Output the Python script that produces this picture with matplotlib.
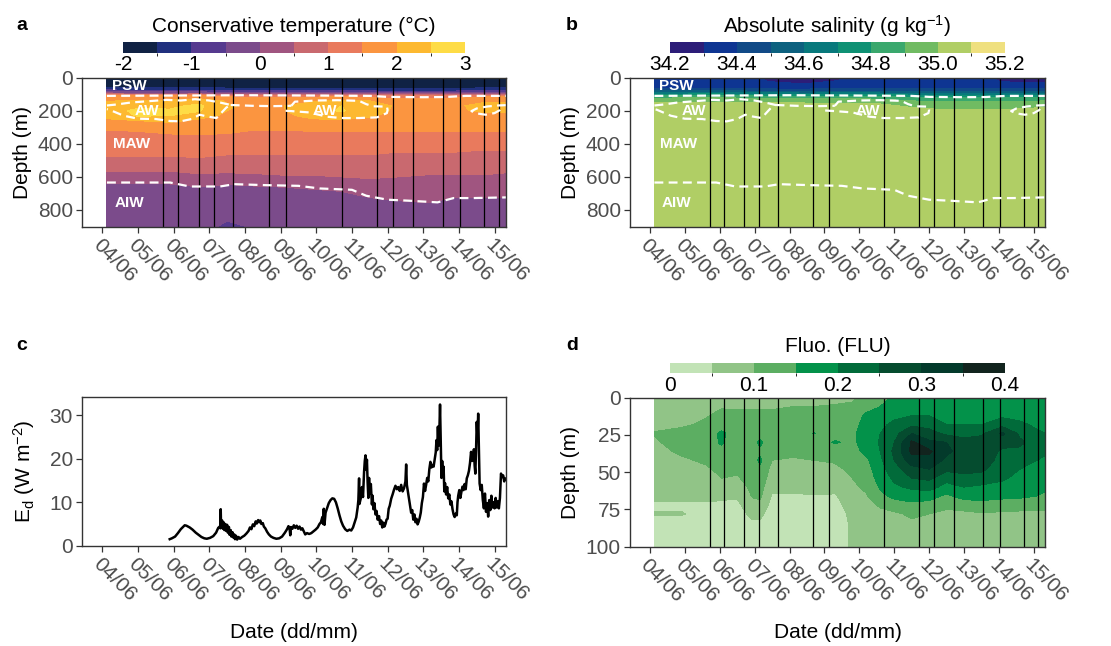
import numpy as np
import matplotlib
matplotlib.use('Agg')
import matplotlib.pyplot as plt
from matplotlib.colors import ListedColormap, BoundaryNorm

plt.rcParams['font.family'] = ['Liberation Sans', 'DejaVu Sans']
plt.rcParams['mathtext.fontset'] = 'custom'
plt.rcParams['mathtext.rm'] = 'Liberation Sans'
plt.rcParams['mathtext.it'] = 'Liberation Sans:italic'
plt.rcParams['mathtext.default'] = 'regular'

# ---------------- data ----------------
date_days = list(range(4, 16))
date_labels = ['%02d/06' % d for d in date_days]

# CTD profile times (vertical black lines)
prof_t = [5.71, 6.13, 6.70, 7.13, 7.66, 8.68, 9.14, 10.71, 11.70, 12.14, 12.70, 13.54, 14.02, 14.71, 15.12]

# Conservative temperature grid
temp_levels = [-2, -1.5, -1, -0.5, 0, 0.5, 1, 1.5, 2, 2.5, 3]
temp_colors = ['#102244', '#20307e', '#563a8f', '#7b4b8b', '#a05580',
               '#c9696f', '#e97a5d', '#fb9540', '#fdb930', '#fedc46']
temp_t = [4.13, 5.0, 5.9, 6.7, 7.5, 8.3, 9.1, 9.9, 10.7, 11.5, 12.3, 13.1, 13.9, 14.7, 15.32]
temp_z = [0, 50, 70, 90, 110, 140, 170, 200, 230, 260, 300, 350, 400, 450, 500, 550, 600, 650, 700, 750, 800, 850, 900]
temp_cols = [
    [-1.8, -1.7, -1.2, -0.2, 1.5, 1.95, 2.2, 2.3, 2.15, 1.9, 1.55, 1.4, 1.25, 1.1, 0.9, 0.6, 0.3, -0.1, -0.2, -0.25, -0.3, -0.3, -0.3],
    [-1.8, -1.7, -1.25, -0.3, 1.5, 2.1, 2.4, 2.6, 2.55, 2.0, 1.6, 1.4, 1.25, 1.1, 0.9, 0.6, 0.3, -0.05, -0.2, -0.25, -0.3, -0.3, -0.3],
    [-1.8, -1.72, -1.3, -0.3, 1.5, 2.1, 2.4, 2.55, 2.5, 2.1, 1.7, 1.45, 1.25, 1.1, 0.9, 0.6, 0.3, -0.05, -0.15, -0.2, -0.25, -0.3, -0.3],
    [-1.8, -1.72, -1.3, -0.3, 1.6, 2.3, 2.6, 2.55, 2.2, 1.9, 1.7, 1.48, 1.25, 1.1, 0.95, 0.65, 0.4, 0.05, -0.15, -0.2, -0.25, -0.3, -0.3],
    [-1.8, -1.75, -1.35, -0.4, 1.4, 1.95, 2.05, 2.0, 1.9, 1.8, 1.65, 1.45, 1.25, 1.05, 0.9, 0.65, 0.35, -0.02, -0.15, -0.25, -0.35, -0.45, -0.6],
    [-1.85, -1.78, -1.4, -0.5, 1.3, 1.8, 1.9, 1.9, 1.85, 1.75, 1.55, 1.4, 1.2, 1.05, 0.9, 0.65, 0.4, 0.02, -0.15, -0.25, -0.3, -0.35, -0.45],
    [-1.85, -1.78, -1.4, -0.5, 1.3, 1.85, 2.0, 1.98, 1.9, 1.75, 1.55, 1.4, 1.2, 1.05, 0.9, 0.7, 0.45, 0.05, -0.15, -0.25, -0.3, -0.3, -0.3],
    [-1.85, -1.78, -1.4, -0.5, 1.35, 1.95, 2.2, 2.3, 2.15, 1.9, 1.6, 1.4, 1.2, 1.05, 0.9, 0.7, 0.45, 0.1, -0.1, -0.25, -0.3, -0.3, -0.3],
    [-1.85, -1.78, -1.4, -0.5, 1.4, 2.1, 2.5, 2.55, 2.3, 1.95, 1.6, 1.4, 1.2, 1.05, 0.9, 0.7, 0.5, 0.15, -0.05, -0.2, -0.25, -0.3, -0.3],
    [-1.85, -1.78, -1.4, -0.6, 1.3, 2.0, 2.3, 2.2, 2.05, 1.85, 1.6, 1.4, 1.2, 1.05, 0.9, 0.75, 0.55, 0.3, 0.1, -0.1, -0.2, -0.3, -0.3],
    [-1.85, -1.78, -1.45, -0.7, 1.2, 1.75, 1.9, 1.9, 1.85, 1.75, 1.6, 1.4, 1.2, 1.0, 0.85, 0.7, 0.5, 0.3, 0.15, -0.02, -0.15, -0.25, -0.3],
    [-1.85, -1.78, -1.45, -0.7, 1.2, 1.75, 1.9, 1.9, 1.85, 1.75, 1.6, 1.4, 1.2, 1.0, 0.85, 0.65, 0.45, 0.3, 0.15, 0.02, -0.15, -0.25, -0.3],
    [-1.85, -1.78, -1.45, -0.6, 1.3, 1.8, 1.95, 1.95, 1.85, 1.75, 1.6, 1.4, 1.15, 1.0, 0.85, 0.65, 0.45, 0.25, 0.1, -0.1, -0.2, -0.25, -0.3],
    [-1.8, -1.72, -1.3, -0.4, 1.4, 1.95, 2.1, 2.05, 1.9, 1.75, 1.6, 1.4, 1.15, 0.95, 0.8, 0.65, 0.45, 0.25, 0.1, -0.1, -0.2, -0.25, -0.3],
    [-1.8, -1.72, -1.3, -0.4, 1.4, 1.95, 2.1, 2.05, 1.9, 1.75, 1.6, 1.4, 1.15, 0.95, 0.8, 0.6, 0.4, 0.25, 0.1, -0.1, -0.2, -0.25, -0.3],
]

# Absolute salinity grid
sal_levels = [34.2, 34.3, 34.4, 34.5, 34.6, 34.7, 34.8, 34.9, 35.0, 35.1, 35.2]
sal_colors = ['#2c1d78', '#0e3592', '#114a87', '#0d617f', '#08797c',
              '#0f9174', '#3aa86d', '#70bb62', '#b0ce65', '#efe07f']
sal_t = [4.13, 5.5, 7.0, 7.7, 8.5, 9.3, 10.2, 10.9, 11.5, 12.2, 13.0, 13.8, 14.4, 15.32]
sal_z = [0, 20, 40, 60, 75, 90, 105, 120, 140, 160, 180, 200, 230, 900]
sal_cols = [
    [34.33, 34.34, 34.36, 34.38, 34.45, 34.60, 34.75, 34.88, 34.97, 35.03, 35.05, 35.05, 35.05, 35.05],
    [34.32, 34.33, 34.35, 34.38, 34.45, 34.62, 34.77, 34.90, 34.98, 35.03, 35.05, 35.05, 35.05, 35.05],
    [34.31, 34.32, 34.34, 34.37, 34.44, 34.60, 34.76, 34.88, 34.97, 35.03, 35.05, 35.05, 35.05, 35.05],
    [34.27, 34.28, 34.32, 34.36, 34.43, 34.58, 34.74, 34.87, 34.97, 35.03, 35.05, 35.05, 35.05, 35.05],
    [34.26, 34.27, 34.31, 34.36, 34.43, 34.57, 34.73, 34.86, 34.96, 35.02, 35.05, 35.05, 35.05, 35.05],
    [34.29, 34.30, 34.33, 34.37, 34.44, 34.58, 34.73, 34.86, 34.96, 35.02, 35.05, 35.05, 35.05, 35.05],
    [34.31, 34.32, 34.34, 34.37, 34.44, 34.58, 34.73, 34.86, 34.96, 35.02, 35.05, 35.05, 35.05, 35.05],
    [34.32, 34.33, 34.35, 34.38, 34.44, 34.57, 34.72, 34.84, 34.93, 34.99, 35.03, 35.05, 35.05, 35.05],
    [34.32, 34.33, 34.35, 34.38, 34.44, 34.56, 34.70, 34.82, 34.90, 34.96, 35.00, 35.03, 35.05, 35.05],
    [34.31, 34.32, 34.35, 34.38, 34.44, 34.55, 34.68, 34.80, 34.88, 34.94, 34.98, 35.02, 35.05, 35.05],
    [34.31, 34.32, 34.35, 34.38, 34.44, 34.55, 34.68, 34.80, 34.88, 34.94, 34.98, 35.02, 35.05, 35.05],
    [34.30, 34.31, 34.34, 34.38, 34.44, 34.55, 34.68, 34.80, 34.88, 34.94, 34.98, 35.02, 35.05, 35.05],
    [34.27, 34.28, 34.33, 34.37, 34.44, 34.55, 34.68, 34.80, 34.88, 34.94, 34.98, 35.02, 35.05, 35.05],
    [34.26, 34.27, 34.32, 34.37, 34.44, 34.56, 34.70, 34.82, 34.90, 34.96, 35.00, 35.03, 35.05, 35.05],
]

# Fluorescence grid
fluo_levels = [0, 0.05, 0.1, 0.15, 0.2, 0.25, 0.3, 0.35, 0.4]
fluo_colors = ['#c2e3b6', '#91c487', '#5cae62', '#03924a', '#016b3a', '#054c2f', '#033a2b', '#12241e']
fluo_t = [4.13, 4.9, 5.6, 6.05, 6.5, 6.95, 7.15, 7.5, 8.1, 8.7, 9.3, 9.8, 10.2, 10.6, 11.0, 11.5,
          12.0, 12.5, 13.0, 13.5, 14.1, 14.6, 15.32]
fluo_z = [0, 6, 12, 18, 24, 30, 36, 42, 48, 54, 60, 66, 72, 78, 86, 100]
fluo_cols = [
    [0.08, 0.08, 0.08, 0.08, 0.105, 0.09, 0.08, 0.07, 0.07, 0.07, 0.065, 0.06, 0.045, 0.052, 0.035, 0.03],
    [0.08, 0.08, 0.08, 0.09, 0.12, 0.13, 0.11, 0.09, 0.08, 0.08, 0.07, 0.06, 0.045, 0.052, 0.035, 0.03],
    [0.08, 0.085, 0.095, 0.11, 0.12, 0.13, 0.12, 0.11, 0.09, 0.08, 0.07, 0.06, 0.045, 0.04, 0.035, 0.03],
    [0.08, 0.095, 0.115, 0.125, 0.16, 0.155, 0.14, 0.125, 0.115, 0.1, 0.07, 0.06, 0.04, 0.035, 0.03, 0.03],
    [0.075, 0.095, 0.11, 0.12, 0.125, 0.125, 0.12, 0.115, 0.11, 0.095, 0.07, 0.055, 0.04, 0.035, 0.03, 0.03],
    [0.075, 0.095, 0.11, 0.12, 0.125, 0.13, 0.13, 0.125, 0.125, 0.12, 0.115, 0.105, 0.08, 0.06, 0.04, 0.03],
    [0.075, 0.095, 0.11, 0.12, 0.125, 0.16, 0.14, 0.16, 0.14, 0.13, 0.12, 0.11, 0.085, 0.06, 0.04, 0.03],
    [0.075, 0.095, 0.11, 0.115, 0.12, 0.12, 0.115, 0.1, 0.085, 0.075, 0.06, 0.045, 0.035, 0.03, 0.03, 0.03],
    [0.08, 0.1, 0.115, 0.12, 0.125, 0.12, 0.11, 0.095, 0.085, 0.075, 0.06, 0.045, 0.035, 0.03, 0.03, 0.03],
    [0.08, 0.1, 0.115, 0.12, 0.152, 0.12, 0.11, 0.1, 0.09, 0.08, 0.065, 0.048, 0.035, 0.03, 0.03, 0.03],
    [0.085, 0.105, 0.12, 0.125, 0.13, 0.155, 0.12, 0.105, 0.09, 0.08, 0.065, 0.045, 0.035, 0.03, 0.03, 0.03],
    [0.09, 0.11, 0.12, 0.13, 0.14, 0.14, 0.13, 0.12, 0.11, 0.1, 0.09, 0.08, 0.07, 0.06, 0.055, 0.055],
    [0.12, 0.13, 0.16, 0.17, 0.175, 0.17, 0.165, 0.14, 0.13, 0.12, 0.11, 0.095, 0.085, 0.08, 0.075, 0.07],
    [0.13, 0.15, 0.17, 0.19, 0.2, 0.205, 0.2, 0.19, 0.18, 0.17, 0.155, 0.14, 0.105, 0.09, 0.08, 0.07],
    [0.16, 0.17, 0.19, 0.21, 0.23, 0.25, 0.26, 0.25, 0.23, 0.21, 0.19, 0.16, 0.13, 0.09, 0.08, 0.075],
    [0.17, 0.18, 0.2, 0.24, 0.3, 0.36, 0.36, 0.33, 0.28, 0.25, 0.21, 0.17, 0.14, 0.11, 0.085, 0.075],
    [0.17, 0.18, 0.2, 0.23, 0.27, 0.31, 0.36, 0.33, 0.3, 0.26, 0.22, 0.17, 0.13, 0.1, 0.085, 0.075],
    [0.17, 0.175, 0.185, 0.2, 0.24, 0.3, 0.31, 0.29, 0.26, 0.22, 0.18, 0.14, 0.11, 0.09, 0.08, 0.075],
    [0.17, 0.175, 0.185, 0.2, 0.23, 0.27, 0.28, 0.28, 0.27, 0.23, 0.2, 0.17, 0.12, 0.09, 0.08, 0.075],
    [0.17, 0.175, 0.18, 0.2, 0.24, 0.28, 0.285, 0.28, 0.26, 0.23, 0.19, 0.17, 0.13, 0.095, 0.08, 0.075],
    [0.17, 0.175, 0.19, 0.23, 0.31, 0.27, 0.24, 0.23, 0.22, 0.21, 0.18, 0.16, 0.13, 0.09, 0.08, 0.075],
    [0.17, 0.175, 0.185, 0.21, 0.24, 0.26, 0.24, 0.22, 0.2, 0.18, 0.17, 0.16, 0.12, 0.09, 0.08, 0.075],
    [0.16, 0.165, 0.17, 0.18, 0.2, 0.21, 0.21, 0.19, 0.17, 0.16, 0.155, 0.145, 0.12, 0.09, 0.08, 0.075],
]

# Water-mass boundaries (dashed white lines)
psw_t = [4.13, 6.0, 8.0, 10.0, 11.5, 12.0, 13.0, 13.6, 14.2, 15.32]
psw_z = [110, 108, 106, 108, 110, 116, 118, 117, 110, 110]
aiw_t = [4.13, 5.9, 6.45, 7.3, 7.7, 8.6, 9.5, 10.1, 11.0, 11.4, 12.0, 12.6, 13.4, 13.85, 14.4, 15.32]
aiw_z = [634, 634, 658, 658, 644, 650, 654, 670, 678, 714, 738, 744, 754, 728, 728, 724]
aw1_t = [4.13, 4.4, 4.8, 5.3, 5.8, 6.2, 6.6, 7.0, 7.3, 7.6, 7.48, 7.2, 6.95, 6.73, 6.5, 6.2, 5.9, 5.5, 5.0, 4.6, 4.2, 4.13]
aw1_z = [168, 162, 150, 142, 134, 138, 130, 138, 150, 165, 180, 244, 235, 224, 250, 264, 262, 250, 248, 230, 194, 190]
awc_t = [7.6, 8.2, 8.8, 9.3]
awc_z = [165, 170, 172, 170]
aw2_t = [9.3, 9.4, 10.0, 10.6, 11.2, 11.4, 11.6, 11.98, 12.0, 11.98, 11.7, 11.2, 10.7, 10.3, 9.8, 9.3, 9.0]
aw2_z = [170, 145, 138, 136, 140, 160, 173, 175, 195, 214, 240, 244, 244, 236, 210, 202, 198]
aw3_t = [15.32, 15.1, 14.8, 14.5, 14.35, 14.5, 14.75, 15.0, 15.15, 15.25]
aw3_z = [166, 168, 174, 186, 202, 216, 224, 214, 196, 172]

mass_names = ['PSW', 'AW', 'AW', 'MAW', 'AIW']
mass_t = [4.77, 5.25, 10.25, 4.82, 4.77]
mass_z = [48, 200, 200, 404, 756]

# Downwelling irradiance Ed
ed_t = [5.89, 5.95, 6.04, 6.12, 6.2, 6.31, 6.36, 6.45, 6.53, 6.62, 6.70, 6.78, 6.86, 6.93, 7.02, 7.11,
        7.19, 7.25, 7.29, 7.31, 7.32, 7.33, 7.36, 7.38, 7.40, 7.42, 7.45, 7.47, 7.50, 7.52, 7.55, 7.57,
        7.60, 7.62, 7.65, 7.67, 7.70, 7.72, 7.75, 7.78, 7.82, 7.86, 7.92, 7.98, 8.04, 8.10, 8.14, 8.18,
        8.22, 8.26, 8.30, 8.33, 8.37, 8.40, 8.43, 8.46, 8.50, 8.53, 8.57, 8.62, 8.67, 8.73, 8.80, 8.88,
        8.96, 9.04, 9.12, 9.18, 9.22, 9.25, 9.27, 9.29, 9.33, 9.37, 9.41, 9.45, 9.49, 9.53, 9.57, 9.61,
        9.65, 9.69, 9.74, 9.80, 9.86, 9.92, 9.98, 10.04, 10.09, 10.13, 10.17, 10.19, 10.21, 10.23, 10.26,
        10.30, 10.35, 10.40, 10.45, 10.50, 10.55, 10.60, 10.65, 10.70, 10.75, 10.81, 10.87, 10.93, 10.98,
        11.03, 11.08, 11.12, 11.16, 11.18, 11.20, 11.21, 11.25, 11.28, 11.31, 11.34, 11.36, 11.38, 11.40,
        11.42, 11.44, 11.46, 11.48, 11.50, 11.53, 11.56, 11.58, 11.60, 11.63, 11.66, 11.69, 11.72, 11.76,
        11.79, 11.82, 11.85, 11.88, 11.91, 11.94, 11.97, 12.00, 12.03, 12.06, 12.10, 12.14, 12.18, 12.22,
        12.26, 12.30, 12.34, 12.38, 12.42, 12.46, 12.50, 12.52, 12.54, 12.57, 12.60, 12.63, 12.66, 12.69,
        12.72, 12.75, 12.78, 12.81, 12.84, 12.87, 12.90, 12.93, 12.96, 12.99, 13.02, 13.05, 13.08, 13.11,
        13.14, 13.17, 13.20, 13.23, 13.26, 13.29, 13.32, 13.35, 13.37, 13.39, 13.41, 13.43, 13.45, 13.47,
        13.49, 13.51, 13.53, 13.55, 13.57, 13.59, 13.61, 13.64, 13.67, 13.70, 13.73, 13.76, 13.79, 13.82,
        13.85, 13.88, 13.91, 13.94, 13.96, 13.98, 14.01, 14.04, 14.07, 14.10, 14.13, 14.16, 14.19, 14.22,
        14.25, 14.28, 14.31, 14.34, 14.37, 14.40, 14.42, 14.44, 14.46, 14.48, 14.50, 14.52, 14.54, 14.56,
        14.58, 14.61, 14.64, 14.67, 14.70, 14.73, 14.76, 14.79, 14.82, 14.85, 14.88, 14.91, 14.94, 14.97,
        15.00, 15.03, 15.06, 15.09, 15.12, 15.15, 15.18, 15.21, 15.24, 15.27, 15.29]
ed_v = [1.5, 1.7, 2.1, 2.9, 3.8, 4.7, 4.6, 4.2, 3.7, 3.0, 2.5, 2.0, 1.7, 1.6, 1.8, 2.2,
        3.0, 4.1, 4.4, 4.0, 8.4, 4.4, 5.8, 3.9, 5.4, 3.6, 5.0, 3.4, 4.8, 3.0, 4.3, 2.5,
        3.6, 2.1, 3.1, 1.9, 2.6, 1.5, 2.3, 1.4, 2.0, 1.6, 2.0, 2.3, 2.8, 3.4, 4.2, 3.8,
        4.9, 4.5, 5.6, 5.1, 5.9, 5.4, 5.8, 5.0, 5.2, 4.4, 4.0, 3.2, 2.6, 2.1, 1.8, 1.6,
        1.7, 2.1, 3.0, 3.8, 4.5, 4.0, 2.4, 4.3, 3.9, 4.7, 4.1, 4.6, 3.9, 4.4, 3.7, 4.0,
        3.3, 2.6, 2.9, 2.7, 2.9, 3.3, 3.7, 4.2, 5.0, 5.4, 6.6, 5.0, 8.5, 4.8, 7.6,
        8.6, 9.8, 10.5, 10.9, 10.8, 10.0, 8.6, 7.0, 5.6, 4.6, 3.8, 3.4, 3.7, 3.5,
        4.2, 5.5, 6.5, 8.8, 10.5, 15.5, 9.6, 11.0, 13.5, 11.2, 17.0, 19.5, 20.8, 17.5,
        19.8, 14.5, 11.0, 15.6, 12.0, 14.2, 9.5, 11.5, 8.4, 9.8, 7.2, 8.0, 6.0, 6.8,
        5.0, 5.8, 4.2, 5.3, 4.4, 5.0, 6.0, 6.2, 8.5, 9.2, 10.8, 11.8, 12.9, 13.8,
        13.0, 13.5, 12.6, 14.0, 12.5, 13.2, 14.8, 18.7, 14.0, 12.4, 10.8, 9.3, 7.6, 8.2,
        6.0, 7.2, 5.4, 6.2, 4.9, 5.5, 6.4, 7.6, 9.8, 11.2, 14.3, 12.6, 14.0, 15.6,
        14.8, 17.6, 19.3, 18.0, 18.6, 18.2, 19.8, 21.5, 24.3, 22.0, 27.4, 23.0, 26.0, 32.5,
        24.5, 15.6, 19.5, 16.5, 18.2, 12.5, 14.4, 11.8, 13.5, 10.9, 11.8, 9.5, 10.2, 8.4,
        7.2, 6.6, 7.4, 7.0, 10.0, 11.5, 12.8, 11.0, 12.4, 13.6, 12.8, 14.2, 13.0, 15.5,
        16.2, 17.2, 19.0, 21.6, 19.5, 20.0, 22.2, 18.5, 16.6, 22.0, 28.5, 25.0, 30.4, 22.0,
        14.3, 12.8, 14.0, 10.5, 8.6, 12.0, 7.8, 9.8, 6.7, 10.5, 8.2, 11.5, 8.8, 10.0,
        8.6, 11.0, 8.8, 10.2, 8.6, 11.0, 16.6, 15.8, 16.2, 14.8, 15.5]

# ---------------- figure ----------------
FS = 15
XMIN, XMAX = 3.43, 15.32
W, H = 1111, 646
fig = plt.figure(figsize=(W / 100, H / 100), dpi=100)
fig.patch.set_facecolor('white')


def rect(l, t, r, b):
    return [l / W, 1 - b / H, (r - l) / W, (b - t) / H]


ax_a = fig.add_axes(rect(82, 77.7, 506, 226.5))
ax_b = fig.add_axes(rect(630, 77.7, 1045, 226.5))
ax_c = fig.add_axes(rect(82, 396.7, 506, 545.7))
ax_d = fig.add_axes(rect(630, 397.7, 1045, 546.7))


def style(ax, yticks, ylim):
    ax.set_xlim(XMIN, XMAX)
    ax.set_ylim(*ylim)
    ax.set_xticks(date_days)
    ax.set_xticklabels(date_labels, rotation=-45, ha='left', va='top', rotation_mode='anchor')
    ax.set_yticks(yticks)
    ax.tick_params(axis='both', direction='out', length=4.5, width=0.9, color='#333333',
                   labelcolor='#4d4d4d', labelsize=FS, pad=2)
    for s in ax.spines.values():
        s.set_color('#333333')
        s.set_linewidth(1.0)


def field(ax, t, z, cols, levels, colors):
    cmap = ListedColormap(colors)
    norm = BoundaryNorm(levels, cmap.N)
    Z = np.array(cols).T
    cf = ax.contourf(t, z, Z, levels=levels, cmap=cmap, norm=norm, antialiased=False)
    return cf


def masses(ax):
    dash = (0, (4, 2.4))
    for tt, zz in [(psw_t, psw_z), (aiw_t, aiw_z), (aw1_t, aw1_z), (awc_t, awc_z),
                   (aw2_t, aw2_z), (aw3_t, aw3_z)]:
        ax.plot(tt, zz, color='white', lw=1.6, ls=dash)
    for name, tt, zz in zip(mass_names, mass_t, mass_z):
        ax.text(tt, zz, name, color='white', fontweight='bold', fontsize=11,
                ha='center', va='center')


def profiles(ax):
    for t in prof_t:
        ax.axvline(t, color='black', lw=0.9)


def colorbar(cf, l, t, r, b, ticks, labels, title):
    cax = fig.add_axes(rect(l, t, r, b))
    cb = fig.colorbar(cf, cax=cax, orientation='horizontal')
    cb.outline.set_visible(False)
    cb.set_ticks(ticks)
    cb.set_ticklabels(labels)
    cax.tick_params(length=0, labelsize=FS, pad=2, labelcolor='black')
    fig.text((l + r) / 2 / W, 1 - (t - 16) / H, title, ha='center', va='center', fontsize=FS)


# panel a
cf_a = field(ax_a, temp_t, temp_z, temp_cols, temp_levels, temp_colors)
profiles(ax_a)
masses(ax_a)
style(ax_a, [0, 200, 400, 600, 800], (900, 0))
ax_a.set_ylabel('Depth (m)', fontsize=FS)
ax_a.yaxis.set_label_coords(-0.118, 0.5)
colorbar(cf_a, 123, 42, 465, 52.5, [-2, -1, 0, 1, 2, 3], ['-2', '-1', '0', '1', '2', '3'],
         'Conservative temperature (°C)')

# panel b
cf_b = field(ax_b, sal_t, sal_z, sal_cols, sal_levels, sal_colors)
profiles(ax_b)
masses(ax_b)
style(ax_b, [0, 200, 400, 600, 800], (900, 0))
ax_b.set_ylabel('Depth (m)', fontsize=FS)
ax_b.yaxis.set_label_coords(-0.12, 0.5)
colorbar(cf_b, 670, 42, 1005, 52.5, [34.2, 34.4, 34.6, 34.8, 35.0, 35.2],
         ['34.2', '34.4', '34.6', '34.8', '35.0', '35.2'], 'Absolute salinity (g kg$^{-1}$)')

# panel c
ax_c.plot(ed_t, ed_v, color='black', lw=1.8)
style(ax_c, [0, 10, 20, 30], (0, 34.3))
ax_c.set_ylabel('E$_\\mathrm{d}$ (W m$^{-2}$)', fontsize=FS)
ax_c.yaxis.set_label_coords(-0.106, 0.5)
ax_c.set_xlabel('Date (dd/mm)', fontsize=FS)
ax_c.xaxis.set_label_coords(0.5, -0.585)
ax_c.xaxis.label.set_va('center')

# panel d
cf_d = field(ax_d, fluo_t, fluo_z, fluo_cols, fluo_levels, fluo_colors)
profiles(ax_d)
style(ax_d, [0, 25, 50, 75, 100], (100, 0))
ax_d.set_ylabel('Depth (m)', fontsize=FS)
ax_d.yaxis.set_label_coords(-0.12, 0.5)
ax_d.set_xlabel('Date (dd/mm)', fontsize=FS)
ax_d.xaxis.set_label_coords(0.5, -0.578)
ax_d.xaxis.label.set_va('center')
colorbar(cf_d, 670, 362.5, 1005, 373, [0, 0.1, 0.2, 0.3, 0.4], ['0', '0.1', '0.2', '0.3', '0.4'],
         'Fluo. (FLU)')

# panel letters
for letter, x, y in [('a', 22, 25), ('b', 572, 25), ('c', 22, 346), ('d', 572, 346)]:
    fig.text(x / W, 1 - y / H, letter, fontweight='bold', fontsize=14, ha='center', va='center')

fig.savefig('out.png', dpi=100, facecolor='white')
